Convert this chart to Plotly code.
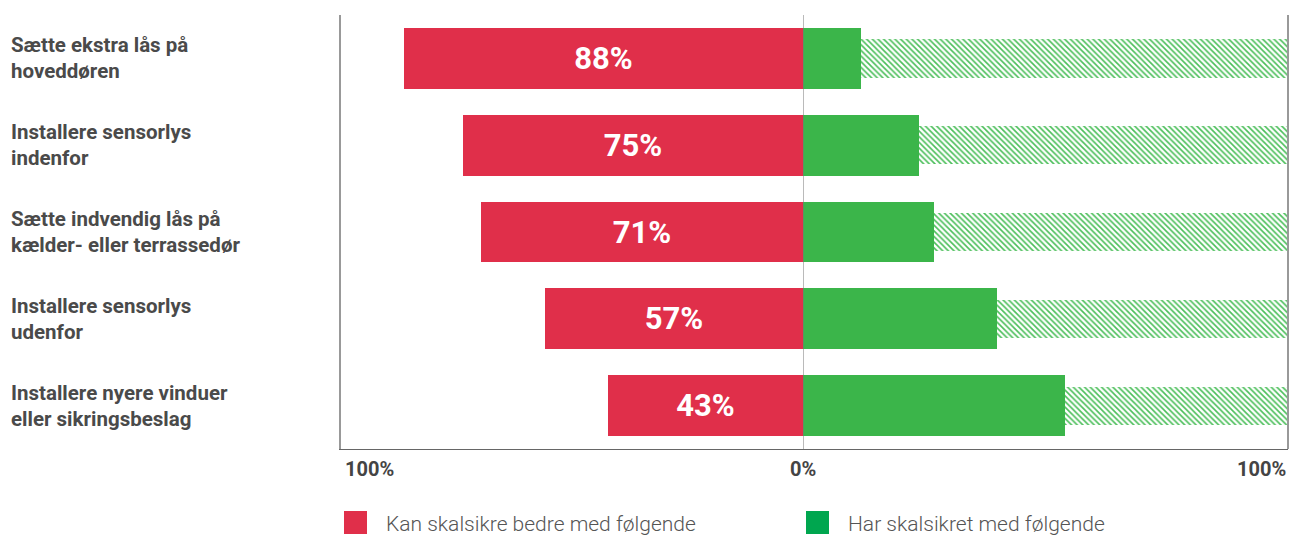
import plotly.graph_objects as go

categories = [
    ["Sætte ekstra lås på", "hoveddøren"],
    ["Installere sensorlys", "indenfor"],
    ["Sætte indvendig lås på", "kælder- eller terrassedør"],
    ["Installere sensorlys", "udenfor"],
    ["Installere nyere vinduer", "eller sikringsbeslag"],
]
red_values = [88, 75, 71, 57, 43]      # Kan skalsikre bedre med følgende
green_values = [12, 24, 27, 40, 54]    # Har skalsikret med følgende
tick_labels = ["100%", "0%", "100%"]
legend_labels = ["Kan skalsikre bedre med følgende", "Har skalsikret med følgende"]

RED = "#e02f4a"
GREEN = "#3bb54a"
LEG_GREEN = "#00a64f"
W, H = 1295, 536
L, R, T, B = 341, 7, 15, 87
PW = W - L - R
PH = H - T - B
ZERO_PX = 803
split = (ZERO_PX - L) / PW

ypos = list(range(len(categories)))

fig = go.Figure()
fig.add_trace(go.Bar(
    y=ypos, x=[-v for v in red_values], orientation="h",
    marker=dict(color=RED, line=dict(width=0)), width=0.7,
    text=[f"{v}%" for v in red_values], textposition="inside",
    insidetextanchor="middle", constraintext="none",
    textfont=dict(family="Roboto", size=31, color="white", weight=700),
    xaxis="x", yaxis="y", hoverinfo="skip", showlegend=False,
))
fig.add_trace(go.Bar(
    y=ypos, x=green_values, orientation="h",
    marker=dict(color=GREEN, line=dict(width=0)), width=0.7,
    xaxis="x2", yaxis="y", hoverinfo="skip", showlegend=False,
))
fig.add_trace(go.Bar(
    y=ypos, x=[100 - g for g in green_values], base=green_values, orientation="h",
    marker=dict(color="white", line=dict(width=0),
                pattern=dict(shape="\\", fgcolor="#4cbf5b", bgcolor="white",
                             size=4, solidity=0.4, fillmode="replace")),
    width=0.44, xaxis="x2", yaxis="y", hoverinfo="skip", showlegend=False,
))

annotations = []
label_font = dict(family="Roboto", size=20.5, color="#4a4a4a", weight=700)
for i, (l1, l2) in enumerate(categories):
    for txt, shift in ((l1, 13), (l2, -13)):
        annotations.append(dict(
            text=txt, xref="paper", yref="y", x=(9 - L) / PW, y=i,
            xanchor="left", yanchor="middle", yshift=shift, showarrow=False,
            font=label_font,
        ))

tick_font = dict(family="Roboto", size=20, color="#444444", weight=700)
ty = (449 - 469) / PH
annotations += [
    dict(text=tick_labels[0], xref="paper", yref="paper", x=(343 - L) / PW, y=ty,
         xanchor="left", yanchor="middle", showarrow=False, font=tick_font),
    dict(text=tick_labels[1], xref="x2", yref="paper", x=0, y=ty,
         xanchor="center", yanchor="middle", showarrow=False, font=tick_font),
    dict(text=tick_labels[2], xref="paper", yref="paper", x=1.0, y=ty,
         xanchor="right", yanchor="middle", showarrow=False, font=tick_font),
]

leg_font = dict(family="Roboto", size=21, color="#555555", weight=300)
ly = (449 - 524) / PH
annotations += [
    dict(text=legend_labels[0], xref="paper", yref="paper", x=(384 - L) / PW, y=ly,
         xanchor="left", yanchor="middle", showarrow=False, font=leg_font),
    dict(text=legend_labels[1], xref="paper", yref="paper", x=(846 - L) / PW, y=ly,
         xanchor="left", yanchor="middle", showarrow=False, font=leg_font),
]

def px_x(p):
    return (p - L) / PW

def px_y(p):
    return (T + PH - p) / PH

shapes = [
    dict(type="line", xref="x2", yref="paper", x0=0, x1=0, y0=0, y1=1,
         line=dict(color="#777777", width=1), layer="above"),
    dict(type="line", xref="paper", yref="paper", x0=1, x1=1, y0=0, y1=1,
         line=dict(color="#999999", width=2), layer="above"),
    dict(type="rect", xref="paper", yref="paper", x0=px_x(344), x1=px_x(367),
         y0=px_y(534), y1=px_y(511), fillcolor=RED, line=dict(width=0)),
    dict(type="rect", xref="paper", yref="paper", x0=px_x(806), x1=px_x(829),
         y0=px_y(534), y1=px_y(511), fillcolor=LEG_GREEN, line=dict(width=0)),
]

fig.update_layout(
    width=W, height=H,
    margin=dict(l=L, r=R, t=T, b=B),
    paper_bgcolor="white", plot_bgcolor="white",
    barmode="overlay", bargap=0,
    xaxis=dict(domain=[0, split], range=[-102, 0], showgrid=False, zeroline=False,
               showticklabels=False, showline=True, linecolor="#666666", linewidth=1,
               fixedrange=True),
    xaxis2=dict(domain=[split, 1], range=[0, 100], showgrid=False, zeroline=False,
                showticklabels=False, showline=True, linecolor="#666666", linewidth=1,
                anchor="y", fixedrange=True),
    yaxis=dict(range=[len(categories) - 0.5, -0.5], showgrid=False, zeroline=False,
               showticklabels=False, showline=True, linecolor="#999999", linewidth=2,
               anchor="x", fixedrange=True),
    annotations=annotations, shapes=shapes,
    showlegend=False,
)

fig.write_html(
    "out.html",
    config={"displayModeBar": False},
    post_script="document.body.style.margin='0px';document.body.style.overflow='hidden';",
)
